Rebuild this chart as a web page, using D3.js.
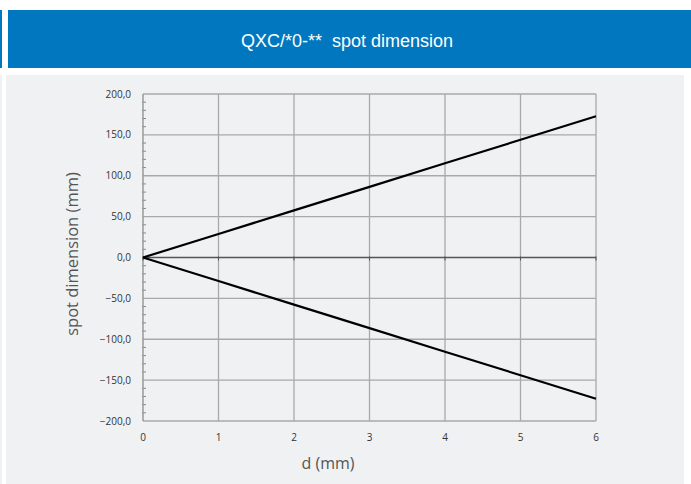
<!DOCTYPE html>
<html><head><meta charset="utf-8">
<script src="https://cdn.jsdelivr.net/npm/d3@7"></script>
<style>html,body{margin:0;padding:0;background:#fff;}svg{display:block;}</style>
</head><body>
<script>
const titleText = "QXC/*0-**  spot dimension";
const xTitle = "d (mm)";
const yTitle = "spot dimension (mm)";
const dValues = [0, 1, 2, 3, 4, 5, 6];
const upperSpot = [0, 28.8, 57.6, 86.4, 115.2, 144.0, 172.8];
const lowerSpot = [0, -28.8, -57.6, -86.4, -115.2, -144.0, -172.8];
const yTicks = [-200, -150, -100, -50, 0, 50, 100, 150, 200];
const xTicks = [0, 1, 2, 3, 4, 5, 6];

const W = 691, H = 484;
const svg = d3.select("body").append("svg").attr("width", W).attr("height", H);

// header
svg.append("rect").attr("x", 0).attr("y", 10).attr("width", 2).attr("height", 58).attr("fill", "#0077be");
svg.append("rect").attr("x", 8).attr("y", 10).attr("width", W - 8).attr("height", 58).attr("fill", "#0077be");
svg.append("text").attr("x", 347).attr("y", 47).attr("text-anchor", "middle")
  .attr("font-family", "Liberation Sans, Arial, sans-serif").attr("font-size", 18)
  .attr("fill", "#fff").style("white-space", "pre").text(titleText);

// panel
svg.append("rect").attr("x", 0).attr("y", 75).attr("width", 2).attr("height", H - 75).attr("fill", "#f0f1f3");
svg.append("rect").attr("x", 6).attr("y", 75).attr("width", 678).attr("height", H - 75).attr("fill", "#f0f1f3");

const x = d3.scaleLinear().domain([0, 6]).range([143, 596]);
const y = d3.scaleLinear().domain([-200, 200]).range([421, 94]);

const g = svg.append("g");
// grid
g.selectAll(".gx").data(xTicks.filter(d => d > 0)).join("line")
  .attr("x1", d => x(d)).attr("x2", d => x(d)).attr("y1", y(200)).attr("y2", y(-200))
  .attr("stroke", "#a9a9a9").attr("stroke-width", 1.3);
g.selectAll(".gy").data(yTicks.filter(d => d !== 0)).join("line")
  .attr("x1", x(0)).attr("x2", x(6)).attr("y1", d => y(d)).attr("y2", d => y(d))
  .attr("stroke", "#a9a9a9").attr("stroke-width", 1.3);

// y axis with minor ticks
const minor = d3.range(-200, 201, 10).filter(v => v % 50 !== 0);
g.selectAll(".mt").data(minor).join("line")
  .attr("x1", x(0) - 1).attr("x2", x(0) + 3).attr("y1", d => y(d)).attr("y2", d => y(d))
  .attr("stroke", "#888").attr("stroke-width", 1);
g.append("line").attr("x1", x(0)).attr("x2", x(0)).attr("y1", y(200)).attr("y2", y(-200))
  .attr("stroke", "#999").attr("stroke-width", 1.5);

// zero axis line with ticks
g.append("line").attr("x1", x(0)).attr("x2", x(6)).attr("y1", y(0)).attr("y2", y(0))
  .attr("stroke", "#555").attr("stroke-width", 1.3);
g.selectAll(".zt").data(xTicks).join("line")
  .attr("x1", d => x(d)).attr("x2", d => x(d)).attr("y1", y(0) - 1).attr("y2", y(0) + 3)
  .attr("stroke", "#555").attr("stroke-width", 1);

// tick labels
const lblFont = "Open Sans, DejaVu Sans, sans-serif";
g.selectAll(".yl").data(yTicks).join("text")
  .attr("x", 131).attr("y", d => y(d) + 3.5).attr("text-anchor", "end")
  .attr("font-family", lblFont).attr("font-size", 10).attr("fill", "#333")
  .text(d => d3.format(".1f")(d).replace(".", ","));
g.selectAll(".xl").data(xTicks).join("text")
  .attr("x", d => x(d)).attr("y", 441).attr("text-anchor", "middle")
  .attr("font-family", lblFont).attr("font-size", 10).attr("fill", "#333")
  .text(d => d);

// lines
const line = d3.line().x((d, i) => x(dValues[i])).y(d => y(d));
g.append("path").datum(upperSpot).attr("d", line).attr("fill", "none").attr("stroke", "#000").attr("stroke-width", 2.2);
g.append("path").datum(lowerSpot).attr("d", line).attr("fill", "none").attr("stroke", "#000").attr("stroke-width", 2.2);

// titles
svg.append("text").attr("x", 328).attr("y", 469).attr("text-anchor", "middle")
  .attr("font-family", lblFont).attr("font-size", 16).attr("fill", "#555").text(xTitle);
svg.append("text").attr("transform", "translate(78,254) rotate(-90)").attr("text-anchor", "middle")
  .attr("font-family", lblFont).attr("font-size", 16.5).attr("fill", "#555").text(yTitle);
</script>
</body></html>
